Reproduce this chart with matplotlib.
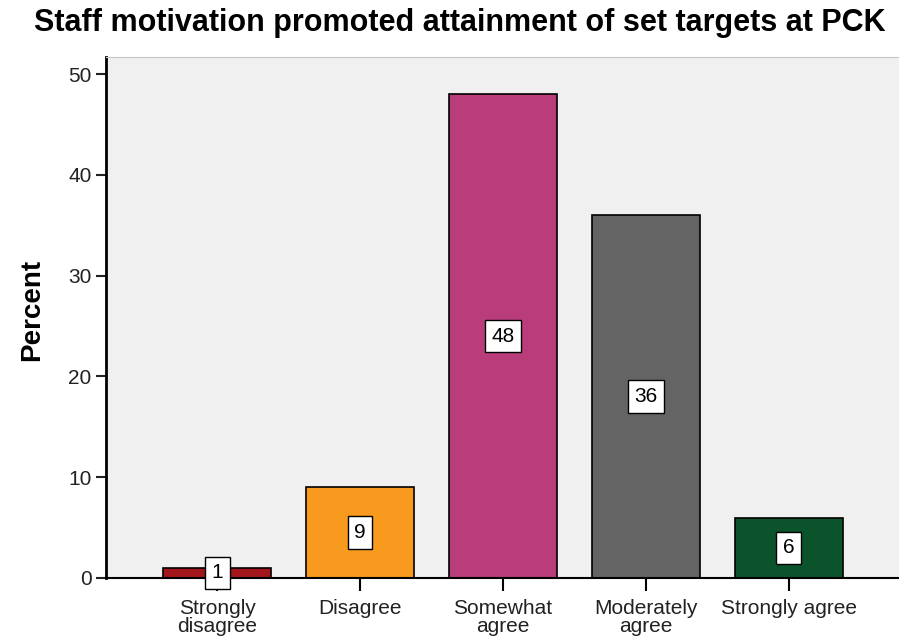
import matplotlib.pyplot as plt

plt.rcParams['font.family'] = ['Liberation Sans', 'DejaVu Sans']

categories = ['Strongly\ndisagree', 'Disagree', 'Somewhat\nagree', 'Moderately\nagree', 'Strongly agree']
percent = [1, 9, 48, 36, 6]
colors = ['#a3161b', '#f79a1e', '#b83d7a', '#646464', '#0b542b']

fig = plt.figure(figsize=(8.99, 6.42), dpi=100)
ax = fig.add_axes([0.118, 0.0997, 0.882, 0.8115])
ax.set_facecolor('#f0f0f0')

x = list(range(len(categories)))
ax.bar(x, percent, width=0.75, color=colors, edgecolor='black', linewidth=1.2, zorder=2)

# value labels in white boxes at half height
for xi, v in zip(x, percent):
    ax.text(xi, v / 2, str(v), ha='center', va='center', fontsize=15, zorder=3,
            bbox=dict(boxstyle='square,pad=0.32', facecolor='white', edgecolor='black', linewidth=1))

ax.set_xlim(-0.776, 4.77)
ax.set_ylim(0, 51.7)
ax.set_yticks([0, 10, 20, 30, 40, 50])
ax.set_xticks(x)
ax.set_xticklabels(categories, fontsize=15, color='#222222', linespacing=0.95)
ax.tick_params(axis='y', labelsize=15, length=7, width=1.5, colors='#222222')
ax.tick_params(axis='x', length=9, width=1.5, pad=6)

ax.spines['left'].set_linewidth(2)
ax.spines['bottom'].set_linewidth(1.5)
ax.spines['top'].set_color('#c8c8c8')
ax.spines['right'].set_visible(False)

ax.set_ylabel('Percent', fontsize=20, fontweight='bold')
ax.yaxis.set_label_coords(-0.077, 0.515)
fig.text(0.511, 0.964, 'Staff motivation promoted attainment of set targets at PCK',
         ha='center', va='center', fontsize=22, fontweight='bold')

fig.savefig('out.png', dpi=100)
